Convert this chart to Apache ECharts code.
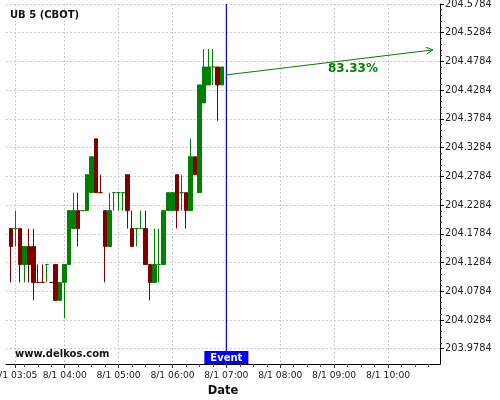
<!DOCTYPE html>
<html><head><meta charset="utf-8">
<script src="https://cdn.jsdelivr.net/npm/echarts@6/dist/echarts.min.js"></script>
<style>html,body{margin:0;padding:0;background:#fff}#c{width:500px;height:400px}</style>
</head><body><div id="c"></div>
<script>
// ---------------- data ----------------
const chartTitle = 'UB 5 (CBOT)';
const watermark = 'www.delkos.com';
const datePrefix = '8/1';
const times = ['03:00','03:05','03:10','03:15','03:20','03:25','03:30','03:35','03:40','03:45','03:50','03:55',
  '04:00','04:05','04:10','04:15','04:20','04:25','04:30','04:35','04:40','04:45','04:50','04:55',
  '05:00','05:05','05:10','05:15','05:20','05:25','05:30','05:35','05:40','05:45','05:50','05:55',
  '06:00','06:05','06:10','06:15','06:20','06:25','06:30','06:35','06:40','06:45','06:50','06:55'];
const opens = [204.1875,204.1875,204.1875,204.125,204.15625,204.15625,204.09375,204.09375,204.125,204.09375,
  204.125,204.0625,204.09375,204.125,204.1875,204.21875,204.21875,204.21875,204.25,204.34375,
  204.25,204.21875,204.15625,204.25,204.25,204.25,204.28125,204.1875,204.1875,204.1875,
  204.1875,204.125,204.09375,204.125,204.125,204.21875,204.21875,204.28125,204.25,204.25,
  204.21875,204.3125,204.25,204.40625,204.4375,204.46875,204.46875,204.4375];
const closes = [204.15625,204.1875,204.125,204.15625,204.125,204.09375,204.09375,204.09375,204.125,204.09375,
  204.0625,204.09375,204.125,204.21875,204.21875,204.1875,204.21875,204.28125,204.3125,204.25,
  204.25,204.15625,204.21875,204.25,204.25,204.25,204.21875,204.15625,204.1875,204.1875,
  204.125,204.09375,204.125,204.125,204.21875,204.25,204.25,204.21875,204.25,204.21875,
  204.3125,204.28125,204.4375,204.46875,204.46875,204.46875,204.4375,204.46875];
const lows = [204.09375,204.15625,204.09375,204.09375,204.09375,204.0625,204.09375,204.09375,204.09375,204.09375,
  204.0625,204.0625,204.03125,204.125,204.1875,204.15625,204.21875,204.21875,204.25,204.25,
  204.25,204.09375,204.15625,204.21875,204.21875,204.21875,204.1875,204.15625,204.15625,204.1875,
  204.125,204.0625,204.09375,204.09375,204.125,204.21875,204.21875,204.1875,204.21875,204.1875,
  204.21875,204.28125,204.25,204.40625,204.4375,204.4375,204.375,204.4375];
const highs = [204.1875,204.21875,204.1875,204.15625,204.1875,204.1875,204.125,204.125,204.125,204.09375,
  204.125,204.09375,204.125,204.21875,204.25,204.25,204.21875,204.28125,204.3125,204.34375,
  204.28125,204.21875,204.25,204.25,204.25,204.25,204.28125,204.21875,204.1875,204.21875,
  204.21875,204.125,204.1875,204.1875,204.21875,204.25,204.25,204.28125,204.28125,204.25,
  204.34375,204.3125,204.4375,204.5,204.5,204.5,204.46875,204.46875];
const yTickLabels = ['203.9784','204.0284','204.0784','204.1284','204.1784','204.2284','204.2784',
  '204.3284','204.3784','204.4284','204.4784','204.5284','204.5784'];
const xLabelTimes = ['03:05','04:00','05:00','06:00','07:00','08:00','09:00','10:00'];
const eventTime = '07:00';
const eventLabel = 'Event';
const forecastFrom = ['07:00', 204.455];
const forecastTo = ['10:50', 204.4985];
const forecastText = '83.33%';
const forecastTextAt = ['09:21', 204.4655];
const xAxisName = 'Date';

// ---------------- helpers / layout ----------------
const toMin = s => { const p = s.split(':').map(Number); return p[0] * 60 + p[1]; };
const pad2 = n => (n < 10 ? '0' : '') + n;
const fmtTime = m => datePrefix + ' ' + pad2(Math.floor(m / 60)) + ':' + pad2(Math.round(m % 60));
const UP = '#008000', DOWN = '#800000';
const FONT = '"DejaVu Sans", sans-serif';

const X_MIN = 174.6, X_MAX = 657.9;
const GRID_LEFT = 6, GRID_RIGHT = 60, GRID_TOP = 4, GRID_BOTTOM = 36;
const LABEL_GRID_H = 344.7;
const yLabMin = +yTickLabels[0], yLabMax = +yTickLabels[yTickLabels.length - 1];
const yInterval = +(yTickLabels[1] - yTickLabels[0]).toFixed(6);
const pxPerUnit = LABEL_GRID_H / (yLabMax - yLabMin);
const plotH = 400 - GRID_TOP - GRID_BOTTOM;
const yDataMax = yLabMax;
const yDataMin = yLabMax - plotH / pxPerUnit;

// candle colours: flat candles compare with previous close, else keep previous colour
const colors = [];
for (let i = 0; i < opens.length; i++) {
  let up;
  if (closes[i] > opens[i]) up = true;
  else if (closes[i] < opens[i]) up = false;
  else if (i === 0) up = true;
  else if (closes[i] > closes[i - 1]) up = true;
  else if (closes[i] < closes[i - 1]) up = false;
  else up = colors[i - 1] === UP;
  colors.push(up ? UP : DOWN);
}
const candleData = times.map((t, i) => ({
  value: [toMin(t), opens[i], closes[i], lows[i], highs[i]],
  itemStyle: { color: colors[i], color0: colors[i], borderColor: colors[i], borderColor0: colors[i], borderColorDoji: colors[i] }
}));

const labelValues = xLabelTimes.map(toMin);
const minorTicks = [];
for (let m = 195; m <= X_MAX; m += 15) if (labelValues.indexOf(m) < 0) minorTicks.push(m);

const gridStyle = { type: [2, 2], color: '#cccccc', width: 1 };

function renderAnno(params, api) {
  const ev = toMin(eventTime);
  const top = api.coord([ev, yDataMax]);
  const bot = api.coord([ev, yDataMin]);
  const a = api.coord([toMin(forecastFrom[0]), forecastFrom[1]]);
  const b = api.coord([toMin(forecastTo[0]), forecastTo[1]]);
  const ang = Math.atan2(b[1] - a[1], b[0] - a[0]);
  const L = 7.5, spread = 27 * Math.PI / 180;
  const h1 = [b[0] - L * Math.cos(ang - spread), b[1] - L * Math.sin(ang - spread)];
  const h2 = [b[0] - L * Math.cos(ang + spread), b[1] - L * Math.sin(ang + spread)];
  const tp = api.coord([toMin(forecastTextAt[0]), forecastTextAt[1]]);
  return {
    type: 'group',
    children: [
      { type: 'line', shape: { x1: top[0], y1: top[1], x2: bot[0], y2: bot[1] }, style: { stroke: '#0000ff', lineWidth: 1.2 } },
      { type: 'line', shape: { x1: a[0], y1: a[1], x2: b[0], y2: b[1] }, style: { stroke: UP, lineWidth: 1 } },
      { type: 'polyline', shape: { points: [h1, b, h2] }, style: { stroke: UP, lineWidth: 1, fill: null } },
      { type: 'text', x: tp[0], y: tp[1], style: { text: forecastText, fill: UP, font: 'bold 12px ' + FONT, align: 'center', verticalAlign: 'middle' } },
      { type: 'text', x: bot[0], y: bot[1], style: { text: eventLabel, fill: '#fff', font: 'bold 10px ' + FONT, align: 'center', verticalAlign: 'bottom', backgroundColor: '#0000ff', padding: [2, 6, 1, 6] } }
    ]
  };
}

const chart = echarts.init(document.getElementById('c'), null, { renderer: 'canvas' });
chart.setOption({
  animation: false,
  backgroundColor: '#fff',
  title: [
    { text: chartTitle, left: 10, top: 10, padding: 0, textStyle: { fontFamily: FONT, fontSize: 10, fontWeight: 'bold', color: '#111' } },
    { text: watermark, left: 15, top: 349, padding: 0, textStyle: { fontFamily: FONT, fontSize: 10, fontWeight: 'bold', color: '#111' } }
  ],
  grid: [
    { left: GRID_LEFT, right: GRID_RIGHT, top: GRID_TOP, bottom: GRID_BOTTOM, containLabel: false, outerBoundsMode: 'none' },
    { left: GRID_LEFT, right: GRID_RIGHT, top: GRID_TOP, height: LABEL_GRID_H, containLabel: false, outerBoundsMode: 'none' }
  ],
  xAxis: [
    { type: 'value', gridIndex: 0, min: X_MIN, max: X_MAX, position: 'bottom',
      name: xAxisName, nameLocation: 'middle', nameGap: 20,
      nameTextStyle: { fontFamily: FONT, fontSize: 11.5, fontWeight: 'bold', color: '#111' },
      axisLine: { show: true, onZero: false, lineStyle: { color: '#000', width: 1 } },
      axisTick: { show: true, length: 4, customValues: labelValues, lineStyle: { color: '#333' } },
      axisLabel: { show: true, customValues: labelValues, formatter: v => fmtTime(v), margin: 7,
        fontFamily: FONT, fontSize: 9.2, color: '#222' },
      splitLine: { show: true, lineStyle: gridStyle } },
    { type: 'value', gridIndex: 0, min: X_MIN, max: X_MAX, position: 'bottom',
      axisLine: { show: false, onZero: false },
      axisTick: { show: true, length: 3, customValues: minorTicks, lineStyle: { color: '#555' } },
      axisLabel: { show: false }, splitLine: { show: false } },
    { type: 'value', gridIndex: 1, min: X_MIN, max: X_MAX, show: false }
  ],
  yAxis: [
    { type: 'value', gridIndex: 0, min: yDataMin, max: yDataMax, position: 'right',
      axisLine: { show: true, lineStyle: { color: '#000', width: 1 } },
      axisTick: { show: false }, axisLabel: { show: false }, splitLine: { show: false } },
    { type: 'value', gridIndex: 1, min: yLabMin, max: yLabMax, interval: yInterval, position: 'right',
      axisLine: { show: false },
      axisTick: { show: true, length: 4, lineStyle: { color: '#000' } },
      minorTick: { show: true, splitNumber: 5, length: 2, lineStyle: { color: '#333' } },
      axisLabel: { show: true, margin: 5, formatter: v => Number(v).toFixed(4), fontFamily: FONT, fontSize: 9.8, color: '#222' },
      splitLine: { show: true, lineStyle: gridStyle } }
  ],
  series: [
    { type: 'candlestick', xAxisIndex: 0, yAxisIndex: 0, barWidth: 4, data: candleData,
      itemStyle: { borderWidth: 1 }, emphasis: { disabled: true } },
    { type: 'custom', xAxisIndex: 0, yAxisIndex: 0, data: [[0]], renderItem: renderAnno, clip: false, silent: true, z: 5 }
  ]
});
</script></body></html>
